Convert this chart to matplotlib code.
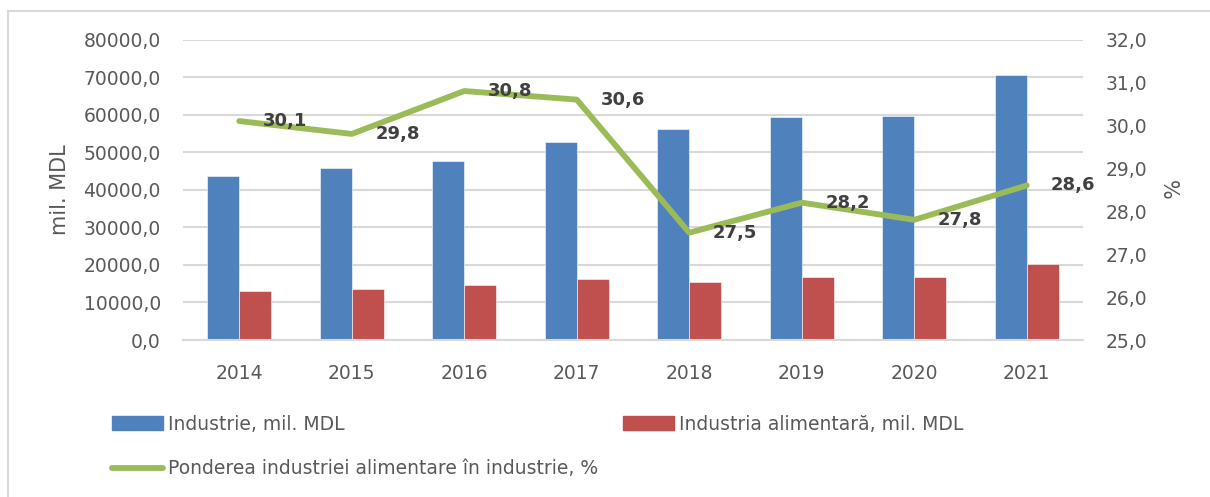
import matplotlib.pyplot as plt
import matplotlib.patches as mpatches
from matplotlib.lines import Line2D
from matplotlib.ticker import FuncFormatter
import numpy as np

years = ['2014', '2015', '2016', '2017', '2018', '2019', '2020', '2021']
industrie = [43600, 45700, 47600, 52800, 56300, 59400, 59700, 70600]
alimentara = [13150, 13700, 14650, 16200, 15550, 16800, 16700, 20250]
ponderea = [30.1, 29.8, 30.8, 30.6, 27.5, 28.2, 27.8, 28.6]

blue = '#4F81BD'
red = '#C0504D'
green = '#9BBB59'
grid_c = '#d9d9d9'
txt_c = '#595959'

plt.rcParams['font.family'] = 'DejaVu Sans'

fig = plt.figure(figsize=(12.1, 4.97), dpi=100)
W, H = 1210, 497
ax = fig.add_axes([183 / W, 1 - 340 / H, 900 / W, 300.5 / H])

x = np.arange(len(years))
bw = 0.285
ax.bar(x - bw / 2, industrie, bw, color=blue, edgecolor='white', linewidth=0.4, zorder=2)
ax.bar(x + bw / 2, alimentara, bw, color=red, edgecolor='white', linewidth=0.4, zorder=2)

ax.set_xlim(-0.5, len(years) - 0.5)
ax.set_ylim(0, 80000)
ax.set_yticks(np.arange(0, 80001, 10000))
ax.yaxis.set_major_formatter(FuncFormatter(lambda v, p: f'{v:.1f}'.replace('.', ',')))
ax.set_xticks(x)
ax.set_xticklabels(years)
ax.yaxis.grid(True, color=grid_c, linewidth=1.5, zorder=0)
ax.set_axisbelow(True)
for s in ['top', 'left', 'right']:
    ax.spines[s].set_visible(False)
ax.spines['bottom'].set_color(grid_c)
ax.spines['bottom'].set_linewidth(1.5)
ax.tick_params(axis='y', length=0, pad=16, labelsize=13.5, labelcolor=txt_c)
ax.tick_params(axis='x', length=0, pad=17, labelsize=13.5, labelcolor=txt_c)
ax.set_ylabel('mil. MDL', fontsize=15, color=txt_c, labelpad=10)

ax2 = ax.twinx()
ax2.plot(x, ponderea, color=green, linewidth=4.2, solid_capstyle='round',
         solid_joinstyle='round', zorder=3)
ax2.set_ylim(25, 32)
ax2.set_yticks(np.arange(25, 32.1, 1))
ax2.yaxis.set_major_formatter(FuncFormatter(lambda v, p: f'{v:.1f}'.replace('.', ',')))
for s in ax2.spines.values():
    s.set_visible(False)
ax2.tick_params(axis='y', length=0, pad=16, labelsize=13.5, labelcolor=txt_c)
ax2.set_ylabel('%', fontsize=15, color=txt_c, rotation=270, labelpad=22)

for xi, v in zip(x, ponderea):
    ax2.annotate(f'{v:.1f}'.replace('.', ','), (xi, v), xytext=(17, 0),
                 textcoords='offset points', ha='left', va='center',
                 fontsize=13, fontweight='bold', color='#404040')

# chart border (runs past right and bottom edges)
fig.add_artist(mpatches.Rectangle((8 / W, -1.0), 3.0, 2.0 - 11 / H,
                                  transform=fig.transFigure, fill=False,
                                  edgecolor=grid_c, linewidth=1.5))

# legend
leg_kw = dict(loc='center left', frameon=False, borderpad=0, borderaxespad=0,
              fontsize=13.5, handlelength=2.7, handletextpad=0.3, labelcolor=txt_c)
h1 = mpatches.Patch(color=blue, label='Industrie, mil. MDL')
h2 = mpatches.Patch(color=red, label='Industria alimentară, mil. MDL')
h3 = Line2D([], [], color=green, linewidth=4.2, solid_capstyle='round',
            label='Ponderea industriei alimentare în industrie, %')
fig.legend(handles=[h1], bbox_to_anchor=(112 / W, 1 - 424 / H), **leg_kw)
fig.legend(handles=[h2], bbox_to_anchor=(623 / W, 1 - 424 / H), **leg_kw)
fig.legend(handles=[h3], bbox_to_anchor=(112 / W, 1 - 469 / H), **leg_kw)

fig.savefig('out.png', dpi=100)
